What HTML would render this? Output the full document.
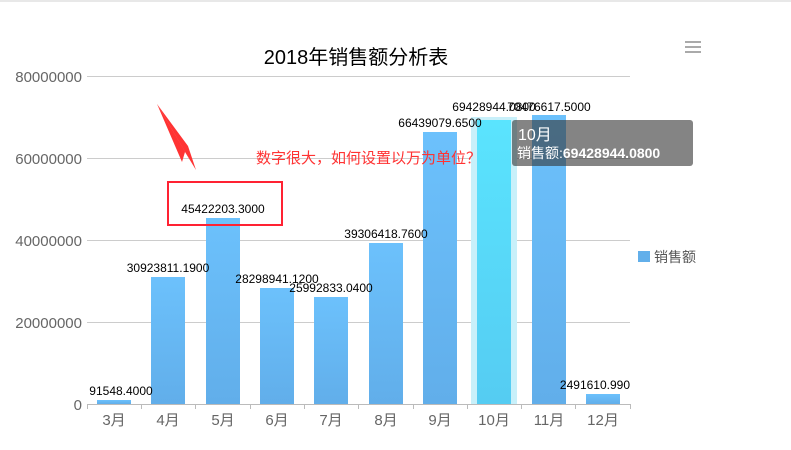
<!DOCTYPE html>
<html><head><meta charset="utf-8"><style>
html,body{margin:0;padding:0;background:#fff;width:791px;height:450px;overflow:hidden}
svg{display:block;font-family:"Liberation Sans","Noto Sans CJK SC",sans-serif}
</style></head><body>
<svg width="791" height="450" viewBox="0 0 791 450">
<defs>
<linearGradient id="g" x1="0" y1="0" x2="0" y2="1"><stop offset="0" stop-color="#6cc1fc"/><stop offset="1" stop-color="#61aeea"/></linearGradient>
<linearGradient id="h" x1="0" y1="0" x2="0" y2="1"><stop offset="0" stop-color="#5ae4fe"/><stop offset="1" stop-color="#55ccf2"/></linearGradient>
</defs>
<rect x="0" y="0" width="791" height="2" fill="#e8e8e8"/>
<text x="356" y="64" font-size="20" text-anchor="middle" fill="#000">2018年销售额分析表</text>
<g fill="#aaa"><rect x="685" y="41" width="16" height="2"/><rect x="685" y="46" width="16" height="2"/><rect x="685" y="51" width="16" height="2"/></g>
<g stroke="#ccc" stroke-width="1">
<line x1="87" y1="76.5" x2="630" y2="76.5"/><line x1="87" y1="158.5" x2="630" y2="158.5"/><line x1="87" y1="240.5" x2="630" y2="240.5"/><line x1="87" y1="322.5" x2="630" y2="322.5"/>
</g>
<g font-size="15" fill="#666" text-anchor="end">
<text x="82" y="82">80000000</text><text x="82" y="164">60000000</text><text x="82" y="246">40000000</text><text x="82" y="328">20000000</text><text x="82" y="410">0</text>
</g>
<rect x="471" y="117" width="46" height="287" fill="#c8f0fa"/>
<g fill="url(#g)">
<rect x="97" y="400" width="34" height="4"/>
<rect x="151" y="277" width="34" height="127"/>
<rect x="206" y="218" width="34" height="186"/>
<rect x="260" y="288" width="34" height="116"/>
<rect x="314" y="297" width="34" height="107"/>
<rect x="369" y="243" width="34" height="161"/>
<rect x="423" y="132" width="34" height="272"/>
<rect x="532" y="115" width="34" height="289"/>
<rect x="586" y="394" width="34" height="10"/>
</g>
<rect x="477" y="120" width="34" height="284" fill="url(#h)"/>
<line x1="87" y1="404.5" x2="630" y2="404.5" stroke="#bbb"/>
<g stroke="#bbb"><line x1="87.5" y1="404" x2="87.5" y2="409"/><line x1="141.5" y1="404" x2="141.5" y2="409"/><line x1="195.5" y1="404" x2="195.5" y2="409"/><line x1="250.5" y1="404" x2="250.5" y2="409"/><line x1="304.5" y1="404" x2="304.5" y2="409"/><line x1="358.5" y1="404" x2="358.5" y2="409"/><line x1="413.5" y1="404" x2="413.5" y2="409"/><line x1="467.5" y1="404" x2="467.5" y2="409"/><line x1="521.5" y1="404" x2="521.5" y2="409"/><line x1="575.5" y1="404" x2="575.5" y2="409"/><line x1="630.5" y1="404" x2="630.5" y2="409"/></g>
<g font-size="15" fill="#666" text-anchor="middle">
<text x="114" y="425">3月</text><text x="168" y="425">4月</text><text x="223" y="425">5月</text><text x="277" y="425">6月</text><text x="331" y="425">7月</text><text x="386" y="425">8月</text><text x="440" y="425">9月</text><text x="494" y="425">10月</text><text x="549" y="425">11月</text><text x="603" y="425">12月</text>
</g>
<g font-size="12" fill="#000" text-anchor="middle">
<text x="121" y="395">91548.4000</text>
<text x="168" y="272">30923811.1900</text>
<text x="223" y="213">45422203.3000</text>
<text x="277" y="283">28298941.1200</text>
<text x="331" y="292">25992833.0400</text>
<text x="386" y="238">39306418.7600</text>
<text x="440" y="127">66439079.6500</text>
<text x="494" y="111">69428944.0800</text>
<text x="549" y="111">70476617.5000</text>
<text x="630" y="389" text-anchor="end">2491610.990</text>
</g>
<rect x="168" y="182" width="114" height="43" fill="none" stroke="#f23" stroke-width="2"/>
<polygon points="157,104 196,170 185,152 182,162" fill="#f33"/>
<polygon points="157,104 184,150 196,170 188,146" fill="#f33"/>
<text x="256" y="163" font-size="15" fill="#f33">数字很大，如何设置以万为单位？</text>
<rect x="512" y="120" width="181" height="46" rx="3" fill="rgba(50,50,50,0.6)"/>
<text x="518" y="140" font-size="16" fill="#fff">10月</text>
<text x="517" y="158" font-size="14" fill="#fff">销售额:<tspan font-weight="bold">69428944.0800</tspan></text>
<rect x="638" y="251" width="12" height="11" fill="#62afea"/>
<text x="654" y="262" font-size="14" fill="#555">销售额</text>
</svg>
</body></html>
